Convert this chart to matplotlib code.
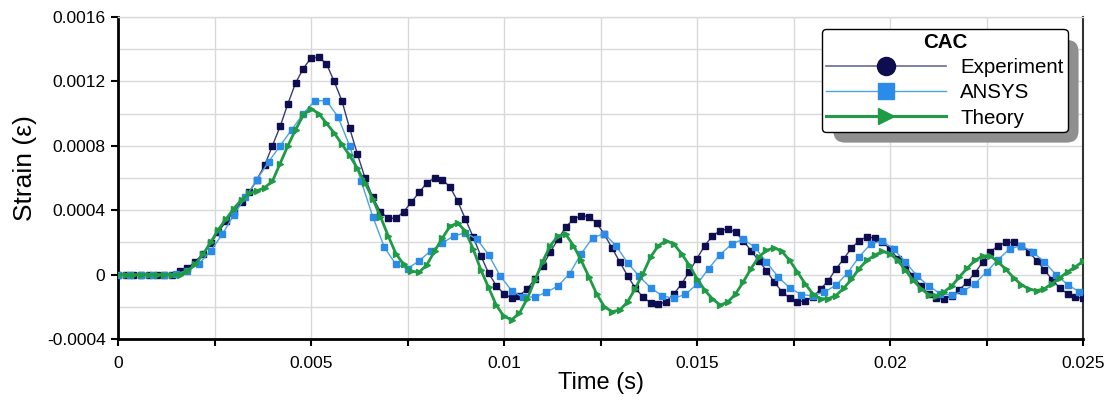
#! /usr/bin/env python3

import numpy as np
import matplotlib
matplotlib.use("Agg")
from matplotlib import pyplot as plt
from matplotlib.lines import Line2D
from matplotlib.patches import FancyBboxPatch
from matplotlib.transforms import IdentityTransform
from matplotlib.ticker import MultipleLocator, FuncFormatter

plt.rcParams["font.family"] = ["Liberation Sans", "DejaVu Sans"]

# sample spacing of each series (s)
EXP_DT = 0.0002
ANSYS_DT = 0.0003
THEORY_DT = 0.0002

# strain values, in units of 1e-4
experiment = [
    0, 0, 0, 0, 0, 0, 0, 0, 0.2, 0.4,
    0.8, 1.3, 1.95, 2.65, 3.3, 3.9, 4.5, 5.1, 5.9, 6.8,
    8.0, 9.2, 10.6, 11.9, 12.8, 13.45, 13.5, 13.1, 12.0, 10.8,
    9.1, 7.5, 6.0, 4.8, 3.9, 3.5, 3.5, 3.9, 4.5, 5.1,
    5.7, 6.0, 5.9, 5.45, 4.56, 3.45, 2.34, 1.16, 0.1, -0.69,
    -1.2, -1.45, -1.3, -0.9, -0.27, 0.55, 1.4, 2.2, 2.95, 3.45,
    3.66, 3.6, 3.2, 2.5, 1.65, 0.78, -0.07, -0.83, -1.4, -1.76,
    -1.85, -1.68, -1.2, -0.58, 0.18, 1.0, 1.8, 2.4, 2.73, 2.83,
    2.64, 2.1, 1.49, 0.86, 0.24, -0.46, -1.06, -1.46, -1.68, -1.64,
    -1.4, -0.9, -0.38, 0.35, 0.97, 1.65, 2.1, 2.35, 2.27, 2.04,
    1.59, 1.0, 0.47, -0.09, -0.7, -1.2, -1.45, -1.52, -1.3, -0.94,
    -0.46, 0.1, 0.78, 1.4, 1.8, 2.0, 2.0, 1.8, 1.42, 0.86,
    0.3, -0.32, -0.83, -1.2, -1.4, -1.47,
]

ansys = [
    0, 0, 0, 0, 0, 0.05, 0.25, 0.68, 1.46, 2.5,
    3.7, 4.8, 5.9, 7.0, 8.0, 9.0, 10.0, 10.8, 10.8, 9.8,
    8.0, 5.8, 3.6, 1.7, 0.63, 0.37, 0.85, 1.47, 1.96, 2.4,
    2.6, 2.2, 1.24, -0.08, -1.0, -1.42, -1.38, -1.1, -0.7, 0.06,
    1.3, 2.3, 2.54, 1.8, 0.74, -0.1, -0.82, -1.32, -1.48, -1.22,
    -0.6, 0.37, 1.24, 1.9, 2.2, 1.7, 0.78, -0.14, -0.82, -1.24,
    -1.32, -1.07, -0.66, 0.1, 1.1, 1.9, 2.1, 1.57, 0.78, -0.08,
    -0.7, -1.18, -1.28, -1.03, -0.56, 0.17, 0.93, 1.6, 1.8, 1.4,
    0.78, 0.0, -0.62, -1.07,
]

theory = [
    0, 0, 0, 0, 0, 0, 0, 0, 0, 0.2,
    0.65, 1.25, 2.0, 2.8, 3.45, 4.1, 4.65, 5.05, 5.2, 5.4,
    5.8, 6.9, 8.0, 9.0, 9.9, 10.3, 10.0, 9.4, 8.8, 8.1,
    7.4, 6.6, 5.7, 4.7, 3.6, 2.4, 1.3, 0.64, 0.2, 0.15,
    0.6, 1.45, 2.25, 3.0, 3.2, 2.7, 1.6, 0.3, -0.8, -1.9,
    -2.6, -2.8, -2.4, -1.5, -0.35, 0.8, 1.8, 2.4, 2.5, 1.8,
    0.88, -0.14, -1.2, -2.0, -2.3, -2.2, -1.7, -0.87, 0.06, 1.1,
    1.8, 2.1, 1.9, 1.3, 0.58, -0.25, -0.97, -1.5, -1.9, -1.7,
    -1.2, -0.45, 0.37, 1.1, 1.5, 1.67, 1.44, 0.88, 0.17, -0.56,
    -1.2, -1.5, -1.5, -1.3, -0.85, -0.3, 0.37, 0.88, 1.2, 1.44,
    1.3, 0.88, 0.27, -0.35, -0.87, -1.24, -1.3, -1.07, -0.7, -0.14,
    0.4, 0.88, 1.16, 1.16, 0.78, 0.33, -0.19, -0.62, -0.9, -1.0,
    -0.87, -0.56, -0.2, 0.17, 0.48, 0.82,
]

labels = ["Experiment", "ANSYS", "Theory"]
legend_title = "CAC"

NAVY = "#0d0d50"
NAVY_LINE = "#3a3a78"
BLUE = "#2a8be8"
BLUE_LINE = "#4ea3e0"
GREEN = "#1f9a45"


def series(values, dt):
    t = np.arange(len(values)) * dt
    return t, np.array(values) * 1e-4


fig = plt.figure(figsize=(11.15, 4.0), dpi=100)
ax = fig.add_axes([118 / 1115, 1 - 339 / 400, 965 / 1115, 322 / 400])

t, s = series(experiment, EXP_DT)
ax.plot(t, s, color=NAVY_LINE, lw=1.0, marker="s", markersize=4,
        markerfacecolor=NAVY, markeredgecolor=NAVY, zorder=3)
t, s = series(ansys, ANSYS_DT)
ax.plot(t, s, color=BLUE_LINE, lw=1.0, marker="s", markersize=4.5,
        markerfacecolor=BLUE, markeredgecolor=BLUE, zorder=3)
t, s = series(theory, THEORY_DT)
ax.plot(t, s, color=GREEN, lw=2.0, marker=">", markersize=5,
        markerfacecolor=GREEN, markeredgecolor=GREEN, zorder=4)

ax.set_xlim(0, 0.025)
ax.set_ylim(-0.0004, 0.0016)

ax.xaxis.set_major_locator(MultipleLocator(0.0025))
ax.xaxis.set_major_formatter(FuncFormatter(
    lambda v, pos: "{:g}".format(round(v, 6)) if round(v / 0.0025) % 2 == 0 else ""))
ax.yaxis.set_major_locator(MultipleLocator(0.0004))
ax.yaxis.set_minor_locator(MultipleLocator(0.0002))
ax.yaxis.set_major_formatter(FuncFormatter(lambda v, pos: "{:g}".format(round(v, 6))))

ax.grid(True, which="major", color="#d9d9d9", lw=1.0)
ax.grid(True, which="minor", axis="y", color="#d9d9d9", lw=1.0)
ax.set_axisbelow(True)

ax.tick_params(axis="both", which="major", direction="out", length=5, width=1.5,
               labelsize=12.5, colors="black")
ax.tick_params(axis="x", which="major", pad=7)
ax.tick_params(axis="y", which="major", pad=4)
ax.tick_params(axis="y", which="minor", length=0)

for side in ("left", "bottom"):
    ax.spines[side].set_linewidth(2.0)
    ax.spines[side].set_color("black")
ax.spines["right"].set_linewidth(1.5)
ax.spines["right"].set_color("#333333")
ax.spines["top"].set_linewidth(1.0)
ax.spines["top"].set_color("#d9d9d9")

ax.set_xlabel("Time (s)", fontsize=17, labelpad=1)
ax.set_ylabel("Strain (ε)", fontsize=19)
ax.yaxis.set_label_coords(-0.084, 0.53)

handles = [
    Line2D([], [], color="#6a6a98", lw=1.2, marker="o", markersize=13,
           markerfacecolor=NAVY, markeredgecolor=NAVY),
    Line2D([], [], color=BLUE_LINE, lw=1.0, marker="s", markersize=11,
           markerfacecolor=BLUE, markeredgecolor=BLUE),
    Line2D([], [], color=GREEN, lw=2.2, marker=">", markersize=12,
           markerfacecolor=GREEN, markeredgecolor=GREEN),
]
leg = ax.legend(handles, labels, title=legend_title, loc="upper right",
                bbox_to_anchor=(0.984, 0.963), borderaxespad=0,
                fontsize=14.8, title_fontproperties={"weight": "bold", "size": 14.8},
                handlelength=5.8, handletextpad=0.7, labelspacing=0.3,
                borderpad=0.2, fancybox=True, framealpha=1.0)
leg.get_frame().set_edgecolor("black")
leg.get_frame().set_linewidth(1.0)
leg.set_zorder(6)

fig.canvas.draw()
frame = leg.get_frame()
bb = frame.get_window_extent(fig.canvas.get_renderer())
shadow = FancyBboxPatch((bb.x0 + 11, bb.y0 - 11), bb.width, bb.height,
                        boxstyle="round,pad=0,rounding_size=12",
                        transform=IdentityTransform(), facecolor="#8f8f8f",
                        edgecolor="none", zorder=5.5, clip_on=False)
ax.add_patch(shadow)

fig.savefig("out.png", dpi=100)
